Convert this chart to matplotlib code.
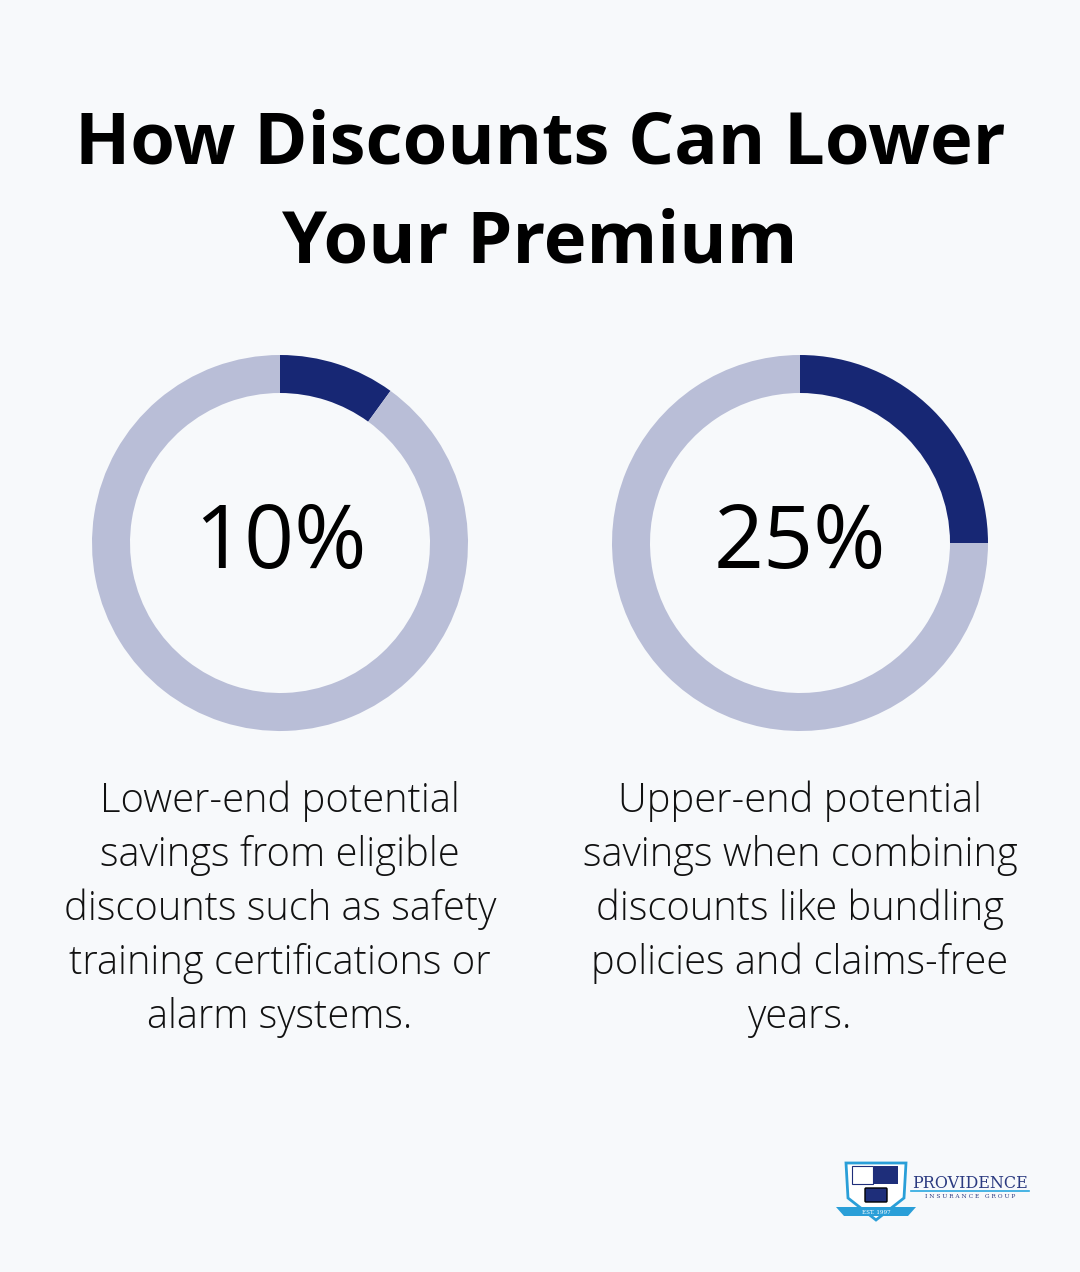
import matplotlib.pyplot as plt
from matplotlib.patches import Polygon, Rectangle, FancyBboxPatch

# 数据
percent_values = [10, 25]
percent_labels = ["10%", "25%"]
descriptions = [
    "Lower-end potential\nsavings from eligible\ndiscounts such as safety\ntraining certifications or\nalarm systems.",
    "Upper-end potential\nsavings when combining\ndiscounts like bundling\npolicies and claims-free\nyears.",
]
title = "How Discounts Can Lower\nYour Premium"

BG = "#F7F9FB"
DARK = "#172774"
LIGHT = "#B9BED7"

W, H = 1080, 1272
fig = plt.figure(figsize=(W / 100, H / 100), dpi=100, facecolor=BG)

# 背景坐标轴（像素坐标）
ax = fig.add_axes([0, 0, 1, 1])
ax.set_xlim(0, W)
ax.set_ylim(H, 0)
ax.axis("off")
ax.set_facecolor(BG)

ax.text(540, 194, title, ha="center", va="center", fontsize=52, fontweight="bold",
        family="Open Sans", color="black", linespacing=1.48)

centers_x = [280, 800]
cy, r_out, ring = 543, 188, 38

for cx, val, lab, desc in zip(centers_x, percent_values, percent_labels, descriptions):
    pax = fig.add_axes([(cx - r_out) / W, (H - cy - r_out) / H, 2 * r_out / W, 2 * r_out / H])
    pax.pie([val, 100 - val], colors=[DARK, LIGHT], startangle=90, counterclock=False,
            radius=1, wedgeprops=dict(width=ring / r_out, linewidth=0))
    pax.set_xlim(-1, 1)
    pax.set_ylim(-1, 1)
    pax.set_aspect("equal")
    pax.axis("off")
    ax.text(cx, cy + 2, lab, ha="center", va="center", fontsize=63, family="Open Sans",
            fontweight="medium", color="black")
    ax.text(cx, 909, desc, ha="center", va="center", fontsize=28.7, family="Open Sans",
            fontweight="light", color="#111111", linespacing=1.405)

# 简化的 logo
shield = Polygon([[846, 1163], [906, 1163], [904, 1198], [876, 1220], [848, 1198]],
                 closed=True, facecolor="white", edgecolor="#2A9FD8", linewidth=2, zorder=3)
ax.add_patch(shield)
ax.add_patch(Rectangle((852, 1166), 21, 18, facecolor="white", edgecolor="#1E2E7A", lw=0.8, zorder=4))
ax.add_patch(Rectangle((874, 1166), 24, 18, facecolor="#1E2E7A", zorder=4))
ax.add_patch(FancyBboxPatch((866, 1189), 20, 12, boxstyle="round,pad=1", facecolor="#1E2E7A", zorder=4))
ax.add_patch(Polygon([[836, 1207], [916, 1207], [908, 1216], [844, 1216]], closed=True,
                     facecolor="#2A9FD8", zorder=5))
ax.text(876, 1212, "EST. 1997", ha="center", va="center", fontsize=4, color="white",
        family="DejaVu Serif", zorder=6)
ax.text(970, 1183, "PROVIDENCE", ha="center", va="center", fontsize=11.5,
        family="DejaVu Serif", color="#2B3A80")
ax.plot([911, 1029], [1191, 1191], color="#29A8E0", lw=1.2)
ax.text(970, 1197, "I N S U R A N C E   G R O U P", ha="center", va="center", fontsize=4.2,
        family="DejaVu Serif", color="#2B3A80")

plt.savefig("out.png", dpi=100, facecolor=BG)
